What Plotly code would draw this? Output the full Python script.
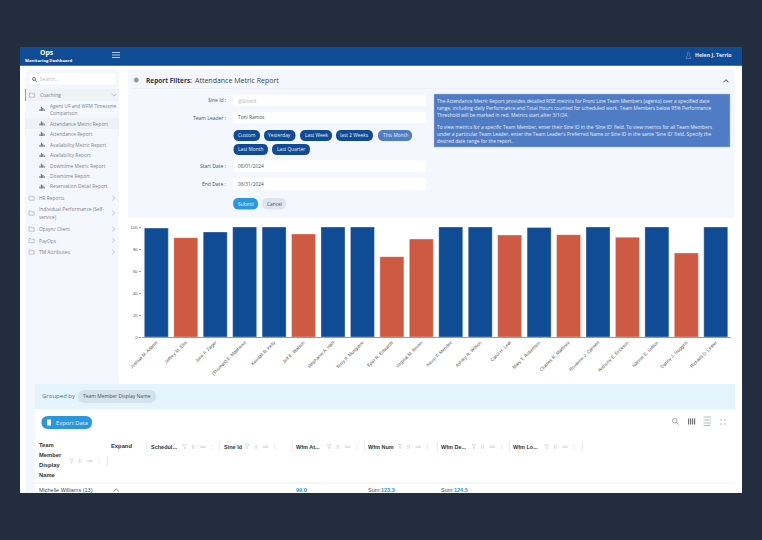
import plotly.graph_objects as go

W, H = 762, 540

# ---------- chart data ----------
team_members = ["Joshua M. Adams", "Jeffrey M. Ellis", "June F. Zager", "(Thomas) E. Matthews",
                "Kendall B. Kelly", "Jeff E. Watson", "Stephanie A. Hart", "Terry P. Musgrave",
                "Tyler R. Edwards", "Virginia M. Brown", "Kevin F. Mendez", "Ashley R. Wilson",
                "Carol H. Leal", "Mary T. Robertson", "Charles R. Martinez", "Roxanne J. Carmell",
                "Anthony E. Erickson", "Nannie E. Sutton", "Danny J. Huggins", "Richard D. Lester"]
attendance = [99, 90.3, 95.5, 100, 100, 93.6, 100, 100, 73, 89,
              100, 100, 92.7, 99.5, 93, 100, 90.6, 100, 76.4, 100]
threshold = 95
y_ticks = [0, 20, 40, 60, 80, 100]

sidebar_children = ["Attendance Metric Report", "Attendance Report", "Availability Metric Report",
                    "Availability Report", "Downtime Metric Report", "Downtime Report",
                    "Reservation Detail Report"]
period_buttons_1 = ["Custom", "Yesterday", "Last Week", "last 2 Weeks", "This Month"]
period_buttons_2 = ["Last Month", "Last Quarter"]
info_lines = [
    "The Attendance Metric Report provides detailed RISE metrics for Front Line Team Members (agents) over a specified date",
    "range, including daily Performance and Total Hours counted for scheduled work. Team Members below 95% Performance",
    "Threshold will be marked in red. Metrics start after 3/1/24.",
    "To view metrics for a specific Team Member, enter their Sine ID in the 'Sine ID' field. To view metrics for all Team Members",
    "under a particular Team Leader, enter the Team Leader's Preferred Name or Sine ID in the same 'Sine ID' field. Specify the",
    "desired date range for the report.",
]

BLUE = "#104c96"
RED = "#cf5a43"
SKY = "#2a97dd"
MID = "#4f7cc4"
PANEL = "#f4f8fe"
UI = "Open Sans"
GRID = "Liberation Sans"

shapes, notes = [], []
def px(x): return x / W
def py(y): return 1 - y / H

def rect(x0, y0, x1, y1, fill, line=None, lw=0):
    shapes.append(dict(type="rect", xref="paper", yref="paper", x0=px(x0), x1=px(x1),
                       y0=py(y1), y1=py(y0), fillcolor=fill, layer="below",
                       line=dict(color=line or fill, width=lw)))

def path(d_pts, color, lw=0.8, fill=None, close=False):
    d = "M " + " L ".join(f"{px(a):.5f},{py(b):.5f}" for a, b in d_pts) + (" Z" if close else "")
    shapes.append(dict(type="path", xref="paper", yref="paper", path=d, layer="below",
                       fillcolor=fill, line=dict(color=color, width=lw)))

def rrect(x0, y0, x1, y1, fill, r=None, line=None, lw=0):
    r = (y1 - y0) / 2 if r is None else r
    X0, X1, Y0, Y1 = px(x0), px(x1), py(y0), py(y1)
    a, b = r / W, r / H
    d = (f"M {X0+a:.5f},{Y0:.5f} L {X1-a:.5f},{Y0:.5f} Q {X1:.5f},{Y0:.5f} {X1:.5f},{Y0-b:.5f} "
         f"L {X1:.5f},{Y1+b:.5f} Q {X1:.5f},{Y1:.5f} {X1-a:.5f},{Y1:.5f} "
         f"L {X0+a:.5f},{Y1:.5f} Q {X0:.5f},{Y1:.5f} {X0:.5f},{Y1+b:.5f} "
         f"L {X0:.5f},{Y0-b:.5f} Q {X0:.5f},{Y0:.5f} {X0+a:.5f},{Y0:.5f} Z")
    shapes.append(dict(type="path", xref="paper", yref="paper", path=d, layer="below",
                       fillcolor=fill, line=dict(color=line or fill, width=lw)))

def txt(x, y, s, size=4.85, color="#7a838f", anchor="left", font=UI, bold=False):
    notes.append(dict(xref="paper", yref="paper", x=px(x), y=py(y), text=f"<b>{s}</b>" if bold else s,
                      showarrow=False, xanchor=anchor, yanchor="middle", align=anchor,
                      font=dict(size=size, color=color, family=font), borderpad=0, borderwidth=0))

# ---------- page frame ----------
rect(20, 47, 742, 493, "#ffffff")
rect(20, 47, 742, 65, BLUE)
rect(20, 65, 742, 66, "#3f78bd")
txt(46.7, 52, "Ops", 6.8, "#ffffff", "center", bold=True)
txt(48.5, 60.2, "Monitoring Dashboard", 4.2, "#ffffff", "center", bold=True)
for yy in (52.5, 55, 57.5):
    path([(112, yy), (120, yy)], "#c8d8ee", 0.9)
path([(686, 58.5), (691, 58.5), (690, 56), (689.3, 55), (689.8, 53), (688.5, 52), (687.2, 53), (687.7, 55), (687, 56), (686, 58.5)], "#7fa3d3", 0.5)
txt(695, 55, "Helen J. Terrio", 5.2, "#e6eef9", bold=True)

# ---------- sidebar ----------
rect(25, 70, 119, 384, PANEL)
rect(26, 384, 35, 493, PANEL)
rect(29, 73, 116, 85, "#ffffff", "#eef1f6", 0.5)
shapes.append(dict(type="circle", xref="paper", yref="paper", x0=px(32.5), x1=px(35.5),
                   y0=py(80.5), y1=py(77.5), layer="below", line=dict(color="#4a5563", width=0.8)))
path([(35.2, 80.2), (36.8, 81.8)], "#4a5563", 0.8)
txt(40, 79, "Search...", 4.85, "#b4bac3")
rect(25, 89, 119, 101, "#f0f3f6")
rect(25, 89, 25.7, 101, "#6e7a88")
rect(25, 118, 119, 129, "#eef2f6")

def folder(x, y):
    path([(x, y - 2), (x + 1.8, y - 2), (x + 2.6, y - 1.2), (x + 5.2, y - 1.2), (x + 5.2, y + 2.2), (x, y + 2.2)],
         "#8a94a3", 0.5, close=True)
def bars_icon(x, y):
    for dx, h in ((0, 2), (1.4, 4), (2.8, 3), (4.2, 1.8)):
        rect(x + dx, y + 2 - h, x + dx + 1, y + 2, "#5d6a7b")
def chevron(x, y, d="r"):
    if d == "r":
        path([(x - 1.3, y - 2.4), (x + 1.3, y), (x - 1.3, y + 2.4)], "#9aa3af", 0.6)
    elif d == "d":
        path([(x - 2.4, y - 1.2), (x, y + 1.2), (x + 2.4, y - 1.2)], "#9aa3af", 0.6)
    else:
        path([(x - 2.6, y + 1.3), (x, y - 1.3), (x + 2.6, y + 1.3)], "#40464f", 1)

folder(29.5, 95)
txt(40, 95, "Coaching")
chevron(114, 95, "d")
bars_icon(39.5, 109)
txt(50, 106, "Agent UF and WFM Timezone")
txt(50, 113, "Comparison")
for name, yy in zip(sidebar_children, (123.5, 134, 144.7, 155, 165.7, 176, 186.5)):
    bars_icon(39.5, yy)
    txt(50, yy, name)
for label, yy in (("HR Reports", 198), ("Opsync Client", 229), ("PayOps", 240.5), ("TM Attributes", 252)):
    folder(29, yy)
    txt(39, yy, label)
    chevron(113.5, yy)
folder(29, 213)
txt(39, 209, "Individual Performance (Self-")
txt(39, 217, "service)")
chevron(113.5, 213)

# ---------- report filters ----------
rect(128, 70, 735, 218, PANEL)
shapes.append(dict(type="circle", xref="paper", yref="paper", x0=px(134), x1=px(138.5),
                   y0=py(82.3), y1=py(77.8), layer="below", fillcolor="#8c8f94",
                   line=dict(color="#b0b3b8", width=0.7)))
txt(145.7, 80, "Report Filters:", 6.5, "#2f3640", bold=True)
txt(195, 80, "Attendance Metric Report", 7, "#3a424d")
chevron(726, 81, "u")
path([(133, 88.5), (730, 88.5)], "#e8ecf2", 0.6)

for label, yy in (("Sine Id :", 100), ("Team Leader :", 118), ("Start Date :", 166), ("End Date :", 184)):
    txt(226, yy, label, 5, "#4a5260", "right")
for y0, y1, val, col in ((95, 106, "@SineId", "#b5bbc4"), (112, 123, "Toni Ramos", "#4a5260"),
                         (160.5, 172, "08/01/2024", "#4a5260"), (178, 190, "08/31/2024", "#4a5260")):
    rect(233, y0, 426, y1, "#ffffff")
    txt(237.5, (y0 + y1) / 2, val, 4.85, col)

for label, (a, b) in zip(period_buttons_1, ((233.5, 260), (264, 295.5), (300, 332), (336, 373), (378, 412))):
    rrect(a, 130, b, 141, MID if label == "This Month" else BLUE)
    txt((a + b) / 2, 135.3, label, 4.85, "#e8effa", "center")
for label, (a, b) in zip(period_buttons_2, ((233.5, 268), (272, 310))):
    rrect(a, 144, b, 155, BLUE)
    txt((a + b) / 2, 149.3, label, 4.85, "#e8effa", "center")
rrect(233, 198, 258, 209.5, SKY)
txt(245.5, 203.7, "Submit", 4.85, "#e8f4fc", "center")
rrect(262, 198, 286, 209.5, "#dfe5ee")
txt(274, 203.7, "Cancel", 4.85, "#4a5260", "center")

rect(434, 94, 730, 147, MID, "#a9c2e6", 0.5)
for line, yy in zip(info_lines, (100.7, 107.7, 114.8, 127, 134, 141)):
    txt(437.3, yy, line, 4.85, "#e9eff9")

# ---------- grouped by + table ----------
rect(35, 384, 735, 409, "#e3f4fc")
txt(42, 396, "Grouped by", 6, "#3b7a9e")
rrect(78, 390, 156, 403, "#d4e3ea")
txt(83, 396.3, "Team Member Display Name", 5, "#47535f")
rrect(41.5, 416, 92, 429, SKY)
rect(47, 419.5, 51, 425.5, "#ffffff")
txt(55.5, 422.5, "Export Data", 5.8, "#e8f4fc")

# tools
shapes.append(dict(type="circle", xref="paper", yref="paper", x0=px(672.5), x1=px(677),
                   y0=py(423), y1=py(418.5), layer="below", line=dict(color="#7a7f87", width=0.7)))
path([(676.5, 422.5), (678.8, 424.6)], "#7a7f87", 0.7)
for dx in (688, 690, 692, 694):
    rect(dx, 418.5, dx + 1.2, 424.5, "#6c7178")
for yy in (417, 420, 423, 425.5):
    path([(703.5, yy), (711, yy)], "#8b8f96", 0.6)
for (a, b, c, d) in ((721, 419, 721, 421), (725, 419, 725, 421), (721, 423, 721, 425), (725, 423, 725, 425)):
    path([(a, b), (c, d)], "#9a9ea5", 0.7)

txt(38.5, 445.3, "Team", 5.8, "#30353c", font=GRID, bold=True)
txt(38.5, 455.3, "Member", 5.8, "#30353c", font=GRID, bold=True)
txt(38.5, 465, "Display", 5.8, "#30353c", font=GRID, bold=True)
txt(38.5, 475, "Name", 5.8, "#30353c", font=GRID, bold=True)
txt(111, 445.7, "Expand", 5.8, "#30353c", font=GRID, bold=True)

def header_icons(fx, yy, sep):
    g = "#c4c7cc"
    path([(fx - 2, yy - 2), (fx + 2, yy - 2), (fx + 0.4, yy), (fx + 0.4, yy + 2), (fx - 0.4, yy + 2), (fx - 0.4, yy)], g, 0.5, close=True)
    path([(fx + 7.8, yy - 2), (fx + 7.8, yy + 2)], g, 0.6)
    path([(fx + 9.4, yy - 2), (fx + 9.4, yy + 2)], g, 0.6)
    for dy in (-0.6, 0.8):
        path([(fx + 15.5, yy + dy), (fx + 21, yy + dy)], g, 0.6)
    for dy in (-2, 0, 2):
        path([(fx + 27.4, yy + dy - 0.4), (fx + 27.4, yy + dy + 0.4)], g, 0.7)
    path([(sep, yy - 5), (sep, yy + 5)], "#d8dbe0", 0.6)

columns = [("Schedul...", 151, 184.7, 219.3), ("Sine Id", 224, 247.3, 292.3),
           ("Wfm At...", 296, 329.3, 364.7), ("Wfm Num", 368, 400, 437.3),
           ("Wfm De...", 441, 474, 509.3), ("Wfm Lo...", 513, 546.7, 582.3)]
path([(146.7, 441.5), (146.7, 451.5)], "#d8dbe0", 0.6)
for name, tx, fx, sep in columns:
    txt(tx, 446.5, name, 5.5, "#30353c", font=GRID, bold=True)
    header_icons(fx, 446.7, sep)
header_icons(71.7, 461, 107.3)
path([(35, 483), (735, 483)], "#e3e5e8", 0.7)
txt(38.5, 489.7, "Michelle Williams (13)", 5.5, "#4a5058", font=GRID)
path([(113.5, 491.5), (116.3, 489), (119, 491.5)], "#555b63", 0.7)
txt(296, 489.7, "99.0", 5.5, SKY, font=GRID, bold=True)
txt(368, 489.7, "Sum:", 5.5, "#4a5058", font=GRID)
txt(380.5, 489.7, "123.3", 5.5, SKY, font=GRID, bold=True)
txt(441, 489.7, "Sum:", 5.5, "#4a5058", font=GRID)
txt(453.5, 489.7, "124.5", 5.5, SKY, font=GRID, bold=True)

# ---------- chart ----------
bar_colors = [BLUE if v >= threshold else RED for v in attendance]
fig = go.Figure(go.Bar(
    x=team_members, y=attendance, width=0.815,
    marker=dict(color=bar_colors, line=dict(color="rgba(255,255,255,0.4)", width=0.8)),
    hovertemplate="%{x}: %{y}<extra></extra>"))

fig.update_layout(
    width=W, height=H, autosize=False,
    margin=dict(l=0, r=0, t=0, b=0, pad=0),
    paper_bgcolor="#222e3f", plot_bgcolor="rgba(0,0,0,0)",
    showlegend=False, shapes=shapes, annotations=notes,
    font=dict(family=UI),
    xaxis=dict(domain=[141.6 / W, 730.5 / W], range=[-0.5, 19.5], type="category",
               tickangle=-45, tickfont=dict(size=4.6, color="#555555", family=GRID),
               showgrid=False, showline=True, linecolor="#9a9a9a", linewidth=1,
               ticks="", ticklen=0, automargin=False),
    yaxis=dict(domain=[1 - 337 / H, 1 - 227 / H], range=[0, 100], tickvals=y_ticks,
               tickfont=dict(size=4.3, color="#555555", family=GRID),
               showgrid=False, showline=False, zeroline=False,
               ticks="outside", ticklen=2, tickcolor="#a0a0a0", tickwidth=0.6, automargin=False),
)

fig.write_html("out.html", config={"displayModeBar": False},
               post_script="document.body.style.margin='0';document.body.style.background='#222e3f';document.body.style.overflow='hidden';")
